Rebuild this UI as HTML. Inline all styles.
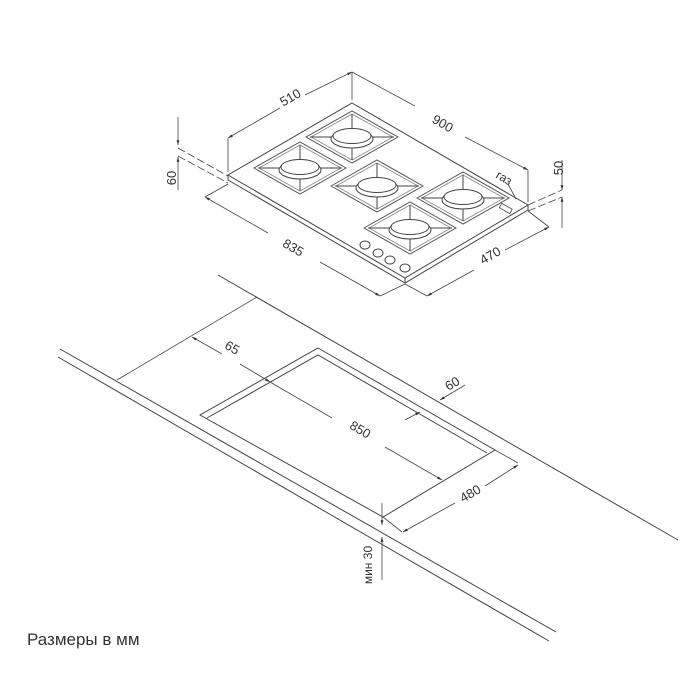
<!DOCTYPE html>
<html><head><meta charset="utf-8"><style>
html,body{margin:0;padding:0;background:#fff;}
svg{display:block;}
text{font-family:"Liberation Sans","DejaVu Sans",sans-serif;fill:#333;}
</style></head><body>
<svg width="700" height="700" viewBox="0 0 700 700" xmlns="http://www.w3.org/2000/svg">
<defs>
<marker id="a" viewBox="0 0 10 10" refX="10" refY="5" markerWidth="6" markerHeight="6" orient="auto-start-reverse"><path d="M0,2 L10,5 L0,8 z" fill="#333"/></marker>
<g id="burner">
  <polygon points="-46,0 0,-26 46,0 0,26" fill="none" stroke="#555" stroke-width="1"/>
  <polygon points="-41,0 0,-23 41,0 0,23" fill="none" stroke="#888" stroke-width="0.8"/>
  <line x1="-42" y1="0" x2="-20" y2="0" stroke="#444"/><line x1="20" y1="0" x2="42" y2="0" stroke="#444"/>
  <line x1="0" y1="-23" x2="0" y2="-9" stroke="#444"/><line x1="0" y1="9" x2="0" y2="23" stroke="#444"/>
  <ellipse cx="0" cy="2" rx="21" ry="9" fill="#fff" stroke="#444"/>
  <ellipse cx="0" cy="-1" rx="19" ry="7.5" fill="#fff" stroke="#444"/>
</g>
</defs>
<g stroke="#444" stroke-width="1" fill="none">
<polygon points="352,103 528,205 405,278 228,175" fill="#fff"/>
<polyline points="228,175 228,180 405,283 528,210 528,205"/>
<line x1="405" y1="278" x2="405" y2="283"/>
</g>
<use href="#burner" x="352" y="137"/>
<use href="#burner" x="300" y="168"/>
<use href="#burner" x="377" y="186"/>
<use href="#burner" x="463" y="198"/>
<use href="#burner" x="410" y="228"/>
<g stroke="#444" fill="#fff">
<ellipse cx="365" cy="245" rx="5" ry="4"/><ellipse cx="378" cy="253" rx="5" ry="4"/>
<ellipse cx="390" cy="260" rx="5" ry="4"/><ellipse cx="405" cy="268" rx="5" ry="4"/>
</g>
<g stroke="#444" stroke-width="0.8" fill="none">
<line x1="228" y1="138" x2="228" y2="172"/><line x1="352" y1="72" x2="352" y2="100"/>
<line x1="228" y1="138" x2="280" y2="108" marker-start="url(#a)"/>
<line x1="305" y1="95" x2="352" y2="72" marker-end="url(#a)"/>
<line x1="352" y1="72" x2="415" y2="106"/>
<line x1="465" y1="137" x2="528" y2="170" marker-end="url(#a)"/>
<line x1="528" y1="170" x2="528" y2="202"/>
<line x1="178" y1="117" x2="178" y2="145" marker-end="url(#a)"/>
<line x1="178" y1="190" x2="178" y2="157" marker-end="url(#a)"/>
<line x1="178" y1="148" x2="228" y2="176" stroke-dasharray="8,3"/>
<line x1="178" y1="156" x2="228" y2="183" stroke-dasharray="8,3"/>
<line x1="562" y1="160" x2="562" y2="190" marker-end="url(#a)"/>
<line x1="562" y1="228" x2="562" y2="197" marker-end="url(#a)"/>
<line x1="528" y1="205" x2="562" y2="190" stroke-dasharray="8,3"/>
<line x1="528" y1="211" x2="562" y2="197" stroke-dasharray="8,3"/>
<line x1="205" y1="197" x2="228" y2="184"/>
<line x1="205" y1="197" x2="268" y2="233" marker-start="url(#a)"/>
<line x1="320" y1="262" x2="380" y2="296" marker-end="url(#a)"/>
<line x1="380" y1="296" x2="405" y2="284"/>
<line x1="405" y1="284" x2="427" y2="296"/>
<line x1="427" y1="296" x2="474" y2="270" marker-start="url(#a)"/>
<line x1="505" y1="250" x2="549" y2="227" marker-end="url(#a)"/>
<line x1="528" y1="211" x2="549" y2="227"/>
<line x1="508" y1="184" x2="516" y2="199"/>
<rect x="500" y="206" width="12" height="5" transform="rotate(30 506 208)"/>
</g>
<g font-size="13">
<text x="290" y="102" transform="rotate(-30 290 97)" text-anchor="middle">510</text>
<text x="443" y="128" transform="rotate(30 443 123)" text-anchor="middle">900</text>
<text x="176" y="178" transform="rotate(-90 176 178)" text-anchor="middle">60</text>
<text x="563" y="168" transform="rotate(-90 563 168)" text-anchor="middle">50</text>
<text x="293" y="252" transform="rotate(30 293 248)" text-anchor="middle">835</text>
<text x="490" y="260" transform="rotate(-30 490 255)" text-anchor="middle">470</text>
<text x="504" y="182" transform="rotate(30 504 178)" text-anchor="middle" font-size="12">газ</text>
</g>
<g stroke="#444" stroke-width="1" fill="none">
<line x1="218" y1="275" x2="678" y2="540"/>
<line x1="60" y1="349" x2="556" y2="632"/>
<line x1="58" y1="357" x2="549" y2="641"/>
<polygon points="318,348 495,450 383,517 200,415"/>
<polyline points="207,418 318,355 487,453"/>
</g>
<g stroke="#444" stroke-width="0.8" fill="none">
<line x1="117" y1="380" x2="257" y2="297"/>
<line x1="192" y1="337" x2="222" y2="354" marker-start="url(#a)"/>
<line x1="240" y1="364" x2="270" y2="382" marker-end="url(#a)"/>
<line x1="270" y1="382" x2="332" y2="418"/>
<line x1="385" y1="447" x2="442" y2="480" marker-end="url(#a)"/>
<line x1="405" y1="420" x2="420" y2="412" marker-end="url(#a)"/>
<line x1="465" y1="385" x2="440" y2="400" marker-end="url(#a)"/>
<line x1="383" y1="517" x2="402" y2="532"/>
<line x1="495" y1="450" x2="518" y2="463"/>
<line x1="403" y1="532" x2="455" y2="503" marker-start="url(#a)"/>
<line x1="485" y1="486" x2="518" y2="465" marker-end="url(#a)"/>
<line x1="382" y1="503" x2="382" y2="525" marker-end="url(#a)"/>
<line x1="382" y1="580" x2="382" y2="537" marker-end="url(#a)"/>
</g>
<g font-size="13">
<text x="232" y="352" transform="rotate(30 232 348)" text-anchor="middle">65</text>
<text x="360" y="434" transform="rotate(30 360 430)" text-anchor="middle">850</text>
<text x="452" y="388" transform="rotate(-30 452 383)" text-anchor="middle">60</text>
<text x="470" y="498" transform="rotate(-30 470 493)" text-anchor="middle">480</text>
<text x="372" y="565" transform="rotate(-90 372 565)" text-anchor="middle" font-size="12">мин 30</text>
</g>
<text x="27" y="645" font-size="17" fill="#222">Размеры в мм</text>
</svg>
</body></html>
